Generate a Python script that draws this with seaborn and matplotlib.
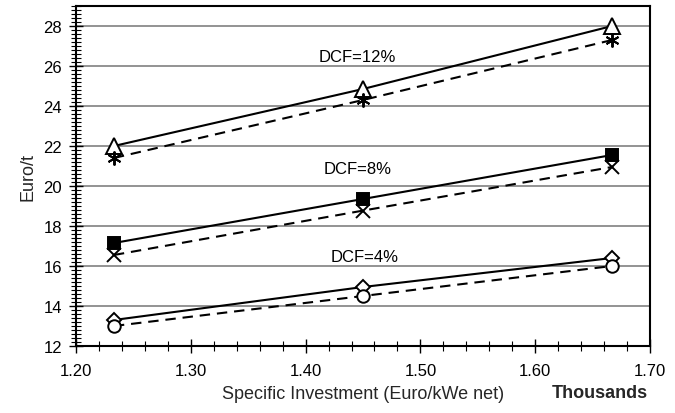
import matplotlib
matplotlib.use("Agg")
import matplotlib.pyplot as plt
import seaborn as sns
import pandas as pd
from matplotlib.ticker import MultipleLocator

sns.set_theme(style="white")
plt.rcParams['font.family'] = ['Liberation Sans', 'DejaVu Sans']

investment = [1.233, 1.450, 1.667]
dcf12_solid = [22.0, 24.85, 28.0]
dcf12_dash = [21.4, 24.3, 27.3]
dcf8_solid = [17.15, 19.35, 21.55]
dcf8_dash = [16.55, 18.77, 20.95]
dcf4_solid = [13.3, 14.95, 16.4]
dcf4_dash = [13.0, 14.5, 16.0]
labels = ["DCF=12%", "DCF=8%", "DCF=4%"]
label_x = [1.445, 1.445, 1.451]
label_y = [26.5, 20.85, 16.45]

fig = plt.figure(figsize=(6.75, 4.14), dpi=100)
ax = fig.add_axes([76/675, 1-347/414, (650-76)/675, (347-7)/414])

series = [
    (dcf12_solid, '-', '^', 'white', 11),
    (dcf12_dash, (0, (5, 3.3)), (6, 2, 0), 'black', 10),
    (dcf8_solid, '-', 's', 'black', 9),
    (dcf8_dash, (0, (5, 3.3)), 'x', 'black', 10),
    (dcf4_solid, '-', 'D', 'white', 7.5),
    (dcf4_dash, (0, (5, 3.3)), 'o', 'white', 9),
]
for vals, ls, mk, fc, ms in series:
    df = pd.DataFrame({"x": investment, "y": vals})
    sns.lineplot(data=df, x="x", y="y", ax=ax, color='black', linewidth=1.5,
                 linestyle=ls, marker=mk, markersize=ms,
                 markerfacecolor=fc, markeredgecolor='black', markeredgewidth=1.4)

for t, x, y in zip(labels, label_x, label_y):
    ax.text(x, y, t, ha='center', va='center', fontsize=12, color='black')

ax.set_xlim(1.20, 1.70)
ax.set_ylim(12, 29)
ax.xaxis.set_major_locator(MultipleLocator(0.10))
ax.xaxis.set_minor_locator(MultipleLocator(0.02))
ax.yaxis.set_minor_locator(MultipleLocator(0.2))
xt = [1.2, 1.3, 1.4, 1.5, 1.6, 1.7]
ax.set_xticks(xt)
ax.set_xticklabels([f"{v:.2f}" for v in xt])
ax.set_yticks(range(12, 30, 2))
ax.set_yticklabels([str(v) for v in range(12, 30, 2)])
ax.tick_params(axis='both', which='major', direction='inout', length=10, width=1,
               colors='black', labelsize=12, left=True, bottom=True)
ax.tick_params(axis='x', which='major', pad=7)
ax.tick_params(axis='y', which='major', pad=5)
ax.tick_params(axis='both', which='minor', direction='inout', length=7, width=0.8,
               colors='black', left=True, bottom=True)
ax.grid(axis='y', which='major', color='#808080', linewidth=1.2)
ax.grid(axis='x', visible=False)
for s in ax.spines.values():
    s.set_color('black')
    s.set_linewidth(1.5)

ax.set_xlabel("Specific Investment (Euro/kWe net)", fontsize=13, labelpad=5)
ax.set_ylabel("Euro/t", fontsize=13, labelpad=5)
fig.text(648/675, 1-394/414, "Thousands", fontsize=13, fontweight='bold', ha='right', va='center')

fig.savefig("out.png", dpi=100)
